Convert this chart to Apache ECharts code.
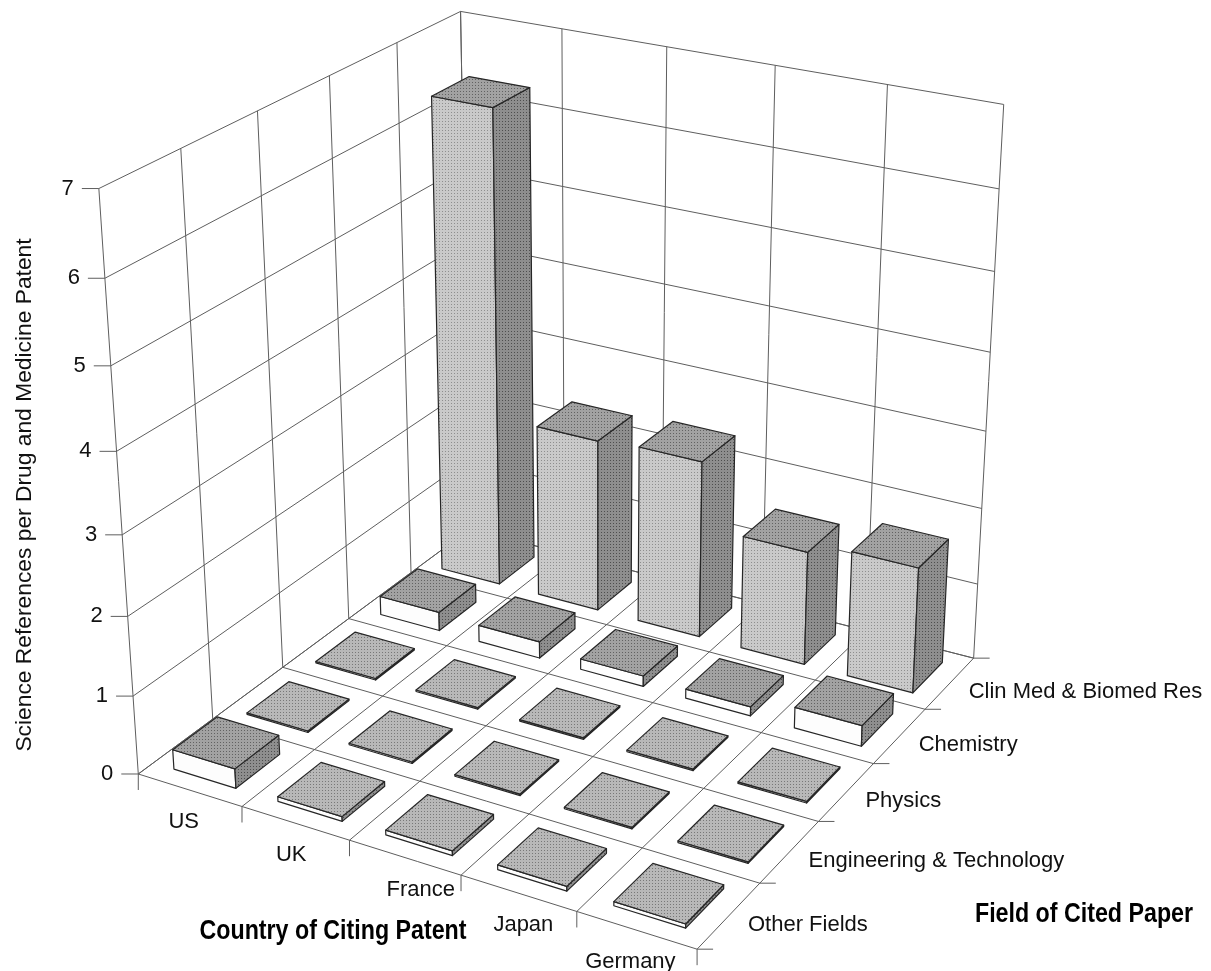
<!DOCTYPE html>
<html>
<head>
<meta charset="utf-8">
<script src="https://cdn.jsdelivr.net/npm/echarts@6/dist/echarts.min.js"></script>
<style>
  html, body { margin: 0; padding: 0; background: #fff; }
  #chart { width: 1211px; height: 971px; }
</style>
</head>
<body>
<div id="chart"></div>
<script>
// categories
const countries = ["US", "UK", "France", "Japan", "Germany"];
const fields = ["Other Fields", "Engineering & Technology", "Physics", "Chemistry", "Clin Med & Biomed Res"];
const valueTicks = [0, 1, 2, 3, 4, 5, 6, 7];

// science references per drug & medicine patent, one array per field (country order)
const otherFields = [0.25, 0.06, 0.06, 0.06, 0.05];
const engineering = [0.02, 0.02, 0.02, 0.02, 0.02];
const physics     = [0.02, 0.02, 0.02, 0.02, 0.02];
const chemistry   = [0.25, 0.22, 0.14, 0.12, 0.27];
const clinMed     = [6.3, 2.3, 2.35, 1.5, 1.65];
const byField = [otherFields, engineering, physics, chemistry, clinMed];

// box frame: (country, field, value) corners of the 3d box -> where they sit on the page.
// used only to fit the perspective camera
const frameAnchors = [
  [0, 0, 0, 139.5, 774], [0, 0, 1, 133, 696], [0, 0, 7, 99, 188],
  [0, 5, 7, 460, 12], [1, 5, 7, 562, 28], [2, 5, 7, 667, 47],
  [1, 0, 0, 242, 807], [4, 0, 0, 576, 912], [5, 0, 0, 697, 949],
  [5, 1, 0, 760, 883], [5, 4, 0, 925, 709], [5, 5, 0, 974, 658],
  [5, 5, 4, 990, 352], [5, 5, 7, 1004, 105], [0, 1, 0, 212, 719]
];
const GAP = 0.2;     // bar inset inside its cell
const TICK = 16;
const countryNudge = [0, 2, 22, 11, 0];   // the original's hand-placed country labels

// fit 3x4 projection (DLT, least squares)
function solve(M, b) {
  const n = b.length;
  for (let c = 0; c < n; c++) {
    let piv = c;
    for (let r = c + 1; r < n; r++) if (Math.abs(M[r][c]) > Math.abs(M[piv][c])) piv = r;
    [M[c], M[piv]] = [M[piv], M[c]]; [b[c], b[piv]] = [b[piv], b[c]];
    for (let r = c + 1; r < n; r++) {
      const f = M[r][c] / M[c][c];
      for (let k = c; k < n; k++) M[r][k] -= f * M[c][k];
      b[r] -= f * b[c];
    }
  }
  const x = Array(n).fill(0);
  for (let r = n - 1; r >= 0; r--) {
    let s = b[r];
    for (let k = r + 1; k < n; k++) s -= M[r][k] * x[k];
    x[r] = s / M[r][r];
  }
  return x;
}
function fitCamera(pts) {
  const S = 1000, n = 11;
  const A = Array.from({length: n}, () => Array(n).fill(0)), b = Array(n).fill(0);
  const add = (row, t) => {
    for (let i = 0; i < n; i++) { b[i] += row[i] * t; for (let k = 0; k < n; k++) A[i][k] += row[i] * row[k]; }
  };
  pts.forEach(([X, Y, Z, px, py]) => {
    const x = px / S, y = py / S;
    add([X, Y, Z, 1, 0, 0, 0, 0, -x * X, -x * Y, -x * Z], x);
    add([0, 0, 0, 0, X, Y, Z, 1, -y * X, -y * Y, -y * Z], y);
  });
  const p = solve(A, b);
  return (u, v, h) => {
    const w = p[8] * u + p[9] * v + p[10] * h + 1;
    return [S * (p[0] * u + p[1] * v + p[2] * h + p[3]) / w, S * (p[4] * u + p[5] * v + p[6] * h + p[7]) / w];
  };
}
const project = fitCamera(frameAnchors);

// scanned-halftone look: tiny repeating dot tile
function halftone(base, dot) {
  const c = document.createElement("canvas");
  c.width = c.height = 3;
  const g = c.getContext("2d");
  g.fillStyle = base; g.fillRect(0, 0, 3, 3);
  g.fillStyle = dot; g.fillRect(1, 1, 1, 1);
  return {image: c, repeat: "repeat"};
}
const FILL_FRONT = halftone("#c9c9c9", "#8e8e8e");
const FILL_SIDE = halftone("#8e8e8e", "#4e4e4e");
const FILL_TOP = halftone("#a2a2a2", "#626262");
const FILL_FLAT = halftone("#b8b8b8", "#787878");

// frame segments: walls + floor grid
const nU = countries.length, nV = fields.length, hMax = valueTicks[valueTicks.length - 1];
const segs = [];
for (let i = 0; i <= nU; i++) segs.push([[i, 0, 0], [i, nV, 0]]);
for (let j = 0; j <= nV; j++) segs.push([[0, j, 0], [nU, j, 0]]);
for (let j = 0; j <= nV; j++) segs.push([[0, j, 0], [0, j, hMax]]);
for (let i = 0; i <= nU; i++) segs.push([[i, nV, 0], [i, nV, hMax]]);
valueTicks.forEach(t => { segs.push([[0, 0, t], [0, nV, t]]); segs.push([[0, nV, t], [nU, nV, t]]); });

// ticks: [anchor, dx, dy]
const ticks = [];
valueTicks.forEach(t => ticks.push([[0, 0, t], -TICK - 1, 0]));
for (let i = 0; i <= nU; i++) ticks.push([[i, 0, 0], 0, TICK]);
for (let j = 0; j <= nV; j++) ticks.push([[nU, j, 0], TICK, 0]);

// labels
const labels = [];
valueTicks.forEach(t => labels.push({p: [0, 0, t], dx: -25, dy: 0, text: String(t), align: "right"}));
countries.forEach((c, i) => labels.push({p: [i + 0.5, 0, 0], dx: -6 + countryNudge[i], dy: 32, text: c, align: "center"}));
fields.forEach((f, j) => labels.push({p: [nU, j + 0.5, 0], dx: 19, dy: 9, text: f, align: "left"}));

// bars, back row first, then left to right (painter order)
const bars = [];
for (let j = nV - 1; j >= 0; j--) for (let i = 0; i < nU; i++) bars.push([i, j, byField[j][i]]);

const LINE = "#5e5e5e";
const FONT = '22px "Liberation Sans", Arial, sans-serif';

function renderFrame(params, api) {
  const s = segs[params.dataIndex];
  const a = api.coord(project(...s[0])), b = api.coord(project(...s[1]));
  return {type: "line", shape: {x1: a[0], y1: a[1], x2: b[0], y2: b[1]}, style: {stroke: LINE, lineWidth: 1}};
}
function renderTick(params, api) {
  const t = ticks[params.dataIndex];
  const a = api.coord(project(...t[0]));
  return {type: "line", shape: {x1: a[0], y1: a[1], x2: a[0] + t[1], y2: a[1] + t[2]}, style: {stroke: LINE, lineWidth: 1}};
}
function renderLabel(params, api) {
  const l = labels[params.dataIndex];
  const a = api.coord(project(...l.p));
  return {type: "text", x: a[0] + l.dx, y: a[1] + l.dy,
    style: {text: l.text, font: FONT, fill: "#111", align: l.align, verticalAlign: "middle"}};
}
function renderBar(params, api) {
  const i = api.value(0), j = api.value(1), h = api.value(2);
  const u0 = i + GAP, u1 = i + 1 - GAP, v0 = j + GAP, v1 = j + 1 - GAP;
  const P = (u, v, z) => api.coord(project(u, v, z));
  const edge = {stroke: "#262626", lineWidth: 1.2, lineJoin: "round"};
  return {type: "group", children: [
    {type: "polygon", shape: {points: [P(u0, v0, 0), P(u1, v0, 0), P(u1, v0, h), P(u0, v0, h)]},
      style: Object.assign({fill: h > 1 ? FILL_FRONT : "#fdfdfd"}, edge)},
    {type: "polygon", shape: {points: [P(u1, v0, 0), P(u1, v1, 0), P(u1, v1, h), P(u1, v0, h)]},
      style: Object.assign({fill: FILL_SIDE}, edge)},
    {type: "polygon", shape: {points: [P(u0, v0, h), P(u1, v0, h), P(u1, v1, h), P(u0, v1, h)]},
      style: Object.assign({fill: h < 0.1 ? FILL_FLAT : FILL_TOP}, edge)}
  ]};
}

const chart = echarts.init(document.getElementById("chart"));
chart.setOption({
  animation: false,
  backgroundColor: "#fff",
  grid: {left: 0, right: 0, top: 0, bottom: 0},
  xAxis: {type: "value", min: 0, max: 1211, show: false},
  yAxis: {type: "value", min: 0, max: 971, inverse: true, show: false},
  series: [
    {type: "custom", silent: true, z: 1, data: segs.map((s, k) => [k]), renderItem: renderFrame},
    {type: "custom", silent: true, z: 1, data: ticks.map((t, k) => [k]), renderItem: renderTick},
    {type: "custom", silent: true, z: 2, data: bars, renderItem: renderBar},
    {type: "custom", silent: true, z: 3, data: labels.map((l, k) => [k]), renderItem: renderLabel}
  ],
  graphic: [
    {type: "text", x: 25, y: 495, rotation: Math.PI / 2,
      style: {text: "Science References per Drug and Medicine Patent", font: '22.8px "Liberation Sans", Arial, sans-serif',
        fill: "#111", align: "center", verticalAlign: "middle"}},
    {type: "text", x: 333, y: 932, scaleX: 0.86,
      style: {text: "Country of Citing Patent", font: 'bold 27px "Liberation Sans", Arial, sans-serif',
        fill: "#000", align: "center", verticalAlign: "middle"}},
    {type: "text", x: 1084, y: 915, scaleX: 0.86,
      style: {text: "Field of Cited Paper", font: 'bold 27px "Liberation Sans", Arial, sans-serif',
        fill: "#000", align: "center", verticalAlign: "middle"}}
  ]
});
</script>
</body>
</html>
